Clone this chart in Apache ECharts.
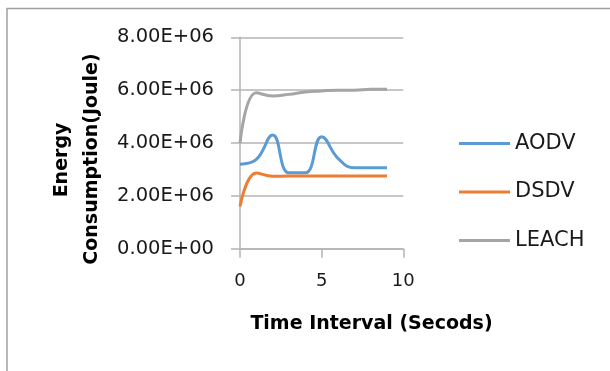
<!DOCTYPE html>
<html>
<head>
<meta charset="utf-8">
<script src="https://cdn.jsdelivr.net/npm/echarts@6/dist/echarts.min.js"></script>
<style>
html,body{margin:0;padding:0;background:#fff;}
#chart{width:610px;height:371px;}
</style>
</head>
<body>
<div id="chart"></div>
<script>
const timeValues = [0, 1, 2, 3, 4, 5, 6, 7, 8, 9];
const aodv  = [3.2e6, 3.38e6, 4.3e6, 2.87e6, 2.87e6, 4.24e6, 3.42e6, 3.06e6, 3.06e6, 3.06e6];
const dsdv  = [1.6e6, 2.86e6, 2.74e6, 2.75e6, 2.75e6, 2.75e6, 2.75e6, 2.75e6, 2.75e6, 2.75e6];
const leach = [4.0e6, 5.9e6, 5.78e6, 5.84e6, 5.93e6, 5.97e6, 6.0e6, 6.0e6, 6.03e6, 6.03e6];
const seriesNames = ['AODV', 'DSDV', 'LEACH'];
const seriesColors = ['#5B9BD5', '#ED7D31', '#A5A5A5'];
const xTitle = 'Time Interval (Secods)';
const yTitleLine1 = 'Energy';
const yTitleLine2 = 'Consumption(Joule)';

function sci(v) {
  if (v === 0) return '0.00E+00';
  const e = Math.floor(Math.log10(Math.abs(v)));
  const m = v / Math.pow(10, e);
  const es = (e < 0 ? '-' : '+') + String(Math.abs(e)).padStart(2, '0');
  return m.toFixed(2) + 'E' + es;
}

const font = 'DejaVu Sans';
const axisGray = '#b4b4b4';
const chart = echarts.init(document.getElementById('chart'), null, {renderer: 'canvas'});
const toPairs = arr => arr.map((v, i) => [timeValues[i], v]);
const allData = [aodv, dsdv, leach];
const titleFont = 'bold 19px "DejaVu Sans"';

chart.setOption({
  animation: false,
  backgroundColor: '#fff',
  grid: {left: 240, right: 206.7, top: 37.3, bottom: 122.3, containLabel: false},
  xAxis: {
    type: 'value', min: 0, max: 10, interval: 5,
    axisLine: {show: true, onZero: false, lineStyle: {color: axisGray, width: 1.5}},
    axisTick: {show: true, length: 9, lineStyle: {color: axisGray, width: 1.5}},
    splitLine: {show: false},
    axisLabel: {margin: 24, fontSize: 18, fontFamily: font, color: '#1a1a1a'}
  },
  yAxis: {
    type: 'value', min: 0, max: 8e6, interval: 2e6,
    axisLine: {show: true, lineStyle: {color: axisGray, width: 1.5}},
    axisTick: {show: true, length: 9, lineStyle: {color: axisGray, width: 1.5}},
    splitLine: {show: true, lineStyle: {color: axisGray, width: 1.5}},
    axisLabel: {margin: 26, fontSize: 19.5, fontFamily: font, color: '#1a1a1a', formatter: v => sci(v)}
  },
  legend: {
    orient: 'vertical', left: 459, top: 133, padding: 0,
    itemWidth: 51, itemHeight: 3, itemGap: 27.5,
    icon: 'rect',
    textStyle: {fontSize: 21, fontFamily: font, color: '#1a1a1a'},
    data: seriesNames
  },
  series: seriesNames.map((n, i) => ({
    name: n, type: 'line', data: toPairs(allData[i]),
    smooth: 0.45, symbol: 'none',
    lineStyle: {color: seriesColors[i], width: 3},
    itemStyle: {color: seriesColors[i]}
  })),
  graphic: [
    {type: 'rect', shape: {x: 7, y: 8.5, width: 700, height: 500}, style: {fill: 'none', stroke: '#a0a0a0', lineWidth: 1.5}, silent: true},
    {type: 'text', x: 371.5, y: 324, style: {text: xTitle, font: titleFont, fill: '#000', align: 'center', verticalAlign: 'middle'}},
    {type: 'text', x: 62, y: 160, rotation: Math.PI / 2, style: {text: yTitleLine1, font: titleFont, fill: '#000', align: 'center', verticalAlign: 'middle'}},
    {type: 'text', x: 92, y: 159, rotation: Math.PI / 2, style: {text: yTitleLine2, font: titleFont, fill: '#000', align: 'center', verticalAlign: 'middle'}}
  ]
});
</script>
</body>
</html>
